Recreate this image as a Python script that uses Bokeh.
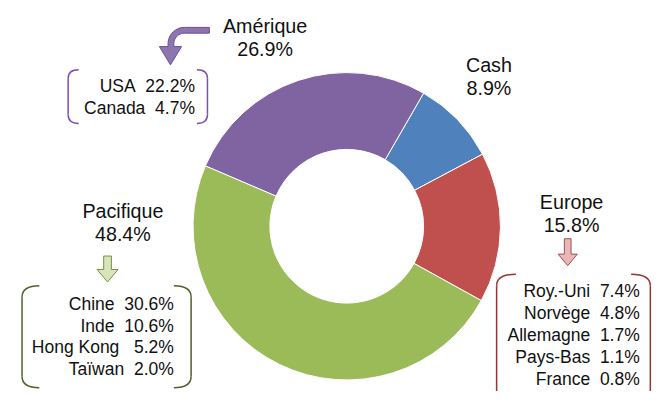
import numpy as np
from bokeh.plotting import figure
from bokeh.models import Range1d, ColumnDataSource
from bokeh.core.properties import value
from bokeh.embed import file_html
from bokeh.resources import INLINE

# ---- data ----
regions = ["Cash", "Europe", "Pacifique", "Amérique"]
region_values = [8.9, 15.8, 48.4, 26.9]
region_colors = ["#4F81BD", "#C0504D", "#9BBB59", "#8064A2"]

amerique_names = ["USA", "Canada"]
amerique_values = [22.2, 4.7]
pacifique_names = ["Chine", "Inde", "Hong Kong", "Taïwan"]
pacifique_values = [30.6, 10.6, 5.2, 2.0]
europe_names = ["Roy.-Uni", "Norvège", "Allemagne", "Pays-Bas", "France"]
europe_values = [7.4, 4.8, 1.7, 1.1, 0.8]

FONT = "Liberation Sans"
W, H = 656, 391
REF_H = 407
S = H / REF_H  # uniform scale from reference layout to the figure
TXT_SHIFT = 6.0 / S  # compensate baseline placement of svg text


def Y(y):
    return REF_H - y


def TY(y):
    return REF_H - y + TXT_SHIFT


p = figure(width=W, height=H,
           x_range=Range1d(336 - (W / 2) / S, 336 + (W / 2) / S),
           y_range=Range1d(0, REF_H),
           output_backend="svg", toolbar_location=None, min_border=0)
p.axis.visible = False
p.grid.visible = False
p.outline_line_color = None
p.background_fill_color = "white"

# ---- donut ----
vals = np.array(region_values)
cum = np.concatenate([[0], np.cumsum(vals)]) / vals.sum()
start_deg = 60.0  # first slice begins 30 deg clockwise from top
starts = np.radians(start_deg - cum[:-1] * 360)
ends = np.radians(start_deg - cum[1:] * 360)
src = ColumnDataSource(dict(start=starts, end=ends, color=region_colors, name=regions))
p.annular_wedge(x=355, y=Y(235), inner_radius=80 * S, outer_radius=160 * S,
                inner_radius_units="screen", outer_radius_units="screen",
                start_angle="start", end_angle="end", direction="clock",
                fill_color="color", line_color="white", line_width=1, source=src)

HEAD_FS = f"{20.5 * S:.1f}px"
LIST_FS = f"{18.2 * S:.1f}px"


def fmt(v):
    return f"{v:.1f}%"


def header(x, y, name, v):
    p.text(x=[x, x], y=[TY(y), TY(y + 24)], text=[name, fmt(v)], text_align="center",
           text_baseline="alphabetic", text_font=value(FONT), text_font_size=HEAD_FS,
           text_color="#111111")


def listing(xr, ys, names, values, wide_names=()):
    texts = []
    for n, v in zip(names, values):
        sp = "\u00a0\u00a0\u00a0" if n in wide_names else "\u00a0\u00a0"
        texts.append(n + sp + fmt(v))
    p.text(x=[xr] * len(ys), y=[TY(y) for y in ys], text=texts, text_align="right",
           text_baseline="alphabetic", text_font=value(FONT), text_font_size=LIST_FS,
           text_color="#111111")


def idx(name):
    return regions.index(name)


header(270, 33, "Amérique", region_values[idx("Amérique")])
header(503, 73, "Cash", region_values[idx("Cash")])
header(122, 225, "Pacifique", region_values[idx("Pacifique")])
header(589, 216, "Europe", region_values[idx("Europe")])

listing(197, [95, 118], amerique_names, amerique_values)
listing(175, [322, 345, 367, 390], pacifique_names, pacifique_values, wide_names=("Hong Kong",))
listing(660, [309, 332, 354, 377, 400], europe_names, europe_values)


# ---- brackets ----
def bracket(xl, xr, top, bottom, r, ext, color):
    for x, s in ((xl, 1), (xr, -1)):
        p.quadratic(x0=[x + s * ext], y0=[Y(top)], x1=[x], y1=[Y(top + r)],
                    cx=[x], cy=[Y(top)], line_color=color, line_width=1.5)
        p.segment(x0=[x], y0=[Y(top + r)], x1=[x], y1=[Y(bottom - r)],
                  line_color=color, line_width=1.5)
        p.quadratic(x0=[x], y0=[Y(bottom - r)], x1=[x + s * ext], y1=[Y(bottom)],
                    cx=[x], cy=[Y(bottom)], line_color=color, line_width=1.5)


bracket(65, 210, 72, 128, 9, 11, "#7F4FB5")
bracket(17, 193, 297, 403, 12, 18, "#4F6228")
bracket(511, 671, 285, 430, 12, 20, "#943634")


# ---- arrows ----
def block_arrow(xc, top, neck, tip, sw, hw, fill, line):
    xs = [xc - sw, xc + sw, xc + sw, xc + hw, xc, xc - hw, xc - sw]
    ys = [top, top, neck, neck, tip, neck, neck]
    p.patch(x=xs, y=[Y(v) for v in ys], fill_color=fill, line_color=line, line_width=1)


block_arrow(106, 266, 280, 293, 4, 11, "#D7E4BD", "#76923C")
block_arrow(585, 248, 264, 276, 3.5, 10, "#E6B9B8", "#A34F4C")

# curved arrow for Amérique
cx, cy = 186, 45
t = np.linspace(np.pi / 2, np.pi, 12)
ro, ri = 17, 11
outer_x = list(cx + ro * np.cos(t))
outer_y = list(cy - ro * np.sin(t))
inner_x = list(cx + ri * np.cos(t[::-1]))
inner_y = list(cy - ri * np.sin(t[::-1]))
ax = [212] + outer_x + [169, 160, 171.5, 183, 175] + inner_x + [212]
ay = [28] + outer_y + [48, 48, 67, 48, 48] + inner_y + [34]
p.patch(x=ax, y=[Y(v) for v in ay], fill_color="#8D76AD", line_color="#6B4C98", line_width=1)

open("out.html", "w").write(file_html(p, INLINE))
